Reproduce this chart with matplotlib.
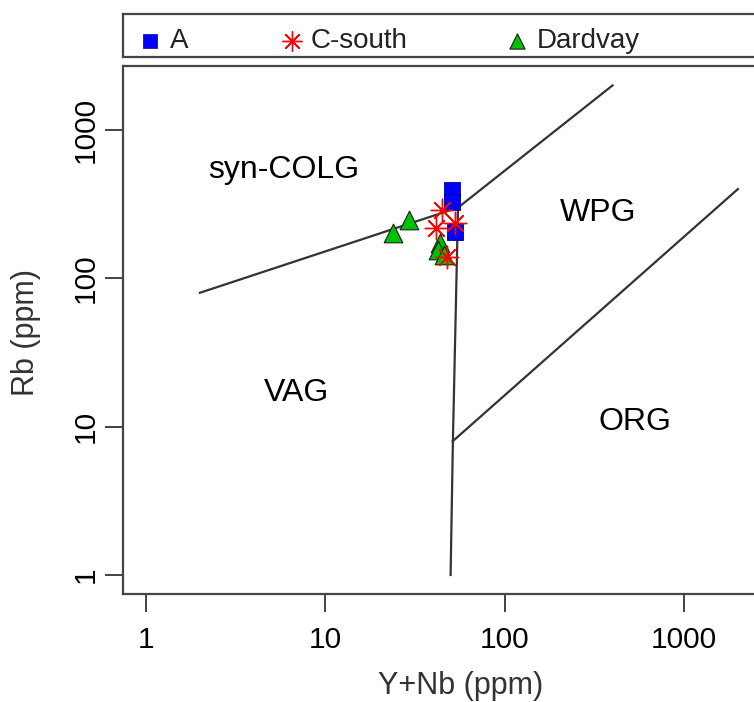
import matplotlib
matplotlib.use('Agg')

import matplotlib.pyplot as plt

plt.rcParams['font.family'] = ['Liberation Sans', 'DejaVu Sans']

# sample groups (Y+Nb, Rb in ppm)
groups = ['A', 'C-south', 'Dardvay']
a_ynb = [50.9, 50.9, 52.9]
a_rb = [394, 327, 204]
cs_ynb = [44.9, 41.3, 52.9, 47.5]
cs_rb = [289, 219, 235, 140]
d_ynb = [23.8, 29.4, 43.6, 42.7, 46.1]
d_rb = [201, 247, 173, 155, 144]

# Pearce et al. (1984) field boundaries
boundaries = [
    ([2, 55], [80, 300]),
    ([55, 400], [300, 2000]),
    ([55, 51.5], [300, 8]),
    ([51.5, 50], [8, 1]),
    ([51.5, 2000], [8, 400]),
]
fields = ['syn-COLG', 'VAG', 'WPG', 'ORG']
field_x = [5.9, 6.9, 334, 535]
field_y = [535, 16.9, 278, 10.7]

W, H = 754, 702
fig = plt.figure(figsize=(W / 100, H / 100), dpi=100)

# main panel, right edge runs off the figure like the original
ax = fig.add_axes([123 / W, (H - 594) / H, (790 - 123) / W, (594 - 66) / H])
ax.set_xscale('log')
ax.set_yscale('log')
ax.set_xlim(10 ** -0.128, 10 ** ((790 - 146) / 179.3))
ax.set_ylim(10 ** -0.128, 10 ** 3.432)

for xs, ys in boundaries:
    ax.plot(xs, ys, color='#333333', lw=1.6, zorder=2)

for name, fx, fy in zip(fields, field_x, field_y):
    ax.text(fx, fy, name, fontsize=23, ha='center', va='center', color='black')

sty = dict(
    A=dict(marker='s', s=140, c='#0000FF', edgecolors='#00008B', linewidths=0.6),
    Csouth=dict(marker=(8, 2, 0), s=260, c='#FF0000', linewidths=1.0),
    D=dict(marker='^', s=180, c='#00C000', edgecolors='#1a1a1a', linewidths=0.8),
)
ax.scatter(a_ynb, a_rb, zorder=3, **sty['A'])
ax.scatter(d_ynb, d_rb, zorder=4, **sty['D'])
ax.scatter(cs_ynb, cs_rb, zorder=5, **sty['Csouth'])

ax.set_xticks([1, 10, 100, 1000])
ax.set_xticklabels(['1', '10', '100', '1000'])
ax.set_yticks([1, 10, 100, 1000])
ax.set_yticklabels(['1', '10', '100', '1000'], rotation=90, va='center')
ax.minorticks_off()
ax.tick_params(axis='both', direction='out', length=13, width=1.2, color='#222222',
               labelsize=21.5)
ax.tick_params(axis='x', pad=10)
ax.tick_params(axis='y', pad=4)
for sp in ax.spines.values():
    sp.set_color('#444444')
    sp.set_linewidth(1.6)

fig.text(461 / W, 1 - 686 / H, 'Y+Nb (ppm)', fontsize=22, color='#333333',
         ha='center', va='center')
fig.text(26 / W, 1 - 333 / H, 'Rb (ppm)', fontsize=22, color='#333333',
         ha='center', va='center', rotation=90)

# legend strip above the panel
lax = fig.add_axes([123 / W, (H - 57) / H, (790 - 123) / W, (57 - 14) / H])
lax.set_xlim(123, 790)
lax.set_ylim(57, 14)
lax.set_xticks([])
lax.set_yticks([])
for sp in lax.spines.values():
    sp.set_color('#444444')
    sp.set_linewidth(1.6)
leg_marker_x = [150, 292, 517]
leg_text_x = [170, 311, 537]
leg_sty = [
    dict(marker='s', s=90, c='#0000FF', edgecolors='#00008B', linewidths=0.5),
    dict(marker=(8, 2, 0), s=200, c='#FF0000', linewidths=1.0),
    dict(marker='^', s=120, c='#00C000', edgecolors='#1a1a1a', linewidths=0.8),
]
for name, mx, tx, st in zip(groups, leg_marker_x, leg_text_x, leg_sty):
    lax.scatter([mx], [41], clip_on=False, **st)
    lax.text(tx, 41, name, fontsize=20, ha='left', va='center', color='#222222')

plt.savefig('out.png', dpi=100)
